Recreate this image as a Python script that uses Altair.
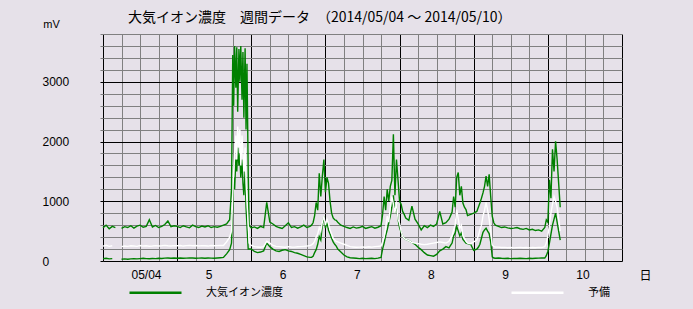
import altair as alt
import pandas as pd

TITLE = "大気イオン濃度　週間データ　（2014/05/04 ～ 2014/05/10）"
SERIES_MAIN = "大気イオン濃度"
SERIES_SPARE = "予備"
DAY_LABELS = ["05/04", "5", "6", "7", "8", "9", "10"]
X_TITLE = "日"
Y_TITLE = "mV"

# hourly readings (hour 0 = 2014/05/04 00:00)
U_d4 = [555, 600, 540, 580, 560, None, 545, 575, 560, 590, 550, 585, 600, 565, 580, 690, 570, 595, 560, 580, 610, 670, 575, 590]
U_d5 = [580, 560, 590, 570, 555, 600, 575, 560, 585, 570, 590, 560, 575, 565, 580, 600, 620, 690, 3400, 3550, 3500, 3600, 3300, 1500]
U_d6 = [555, 570, 545, 580, 560, 980, 650, 620, 580, 560, 545, 590, 640, 560, 575, 550, 570, 600, 560, 580, 640, 980, 1470, 1700]
U_d7 = [1250, 1300, 800, 690, 650, 600, 580, 560, 545, 570, 550, 560, 580, 545, 560, 575, 550, 565, 590, 1080, 1200, 1300, 2120, 1700]
U_d8 = [1000, 830, 720, 680, 920, 700, 620, 520, 590, 560, 600, 580, 620, 830, 620, 640, 700, 820, 900, 1480, 1250, 900, 760, 780]
U_d9 = [800, 830, 970, 1140, 1420, 1450, 750, 640, 580, 560, 570, 555, 545, 550, 560, 540, 530, 545, 520, 530, 510, 520, 500, 560]

W_d4 = [250, 262, 245, 255, None, None, 240, 250, 245, 255, 250, 245, 260, 250, 255, 248, 252, 258, 250, 255, 262, 255, 250, 258]
W_d5 = [255, 260, 250, 258, 262, 255, 260, 252, 258, 255, 250, 260, 255, 258, 262, 260, 320, 400, 1500, 2000, 2200, 2100, 1800, 900]
W_d6 = [260, 240, 235, 230, 240, 330, 300, 260, 245, 240, 235, 230, 240, 235, 232, 238, 240, 245, 250, 260, 290, 400, 560, 750]
W_d7 = [600, 620, 450, 350, 320, 300, 280, 260, 240, 235, 230, 232, 235, 230, 238, 232, 240, 245, 250, 400, 750, 900, 950, 1000]
W_d8 = [630, 410, 360, 340, 310, 300, 290, 280, 275, 280, 290, 300, 310, 320, 310, 300, 330, 420, 600, 860, 600, 380, 300, 290]
W_d9 = [320, 350, 520, 750, 980, 700, 380, 250, 232, 225, 228, 222, 226, 220, 224, 228, 222, 225, 220, 226, 222, 228, 225, 240]

L_d4 = [40, 45, 35, 40, None, None, 30, 35, 30, 35, 40, 35, 40, 45, 40, 38, 42, 40, 45, 42, 48, 50, 45, 50]
L_d5 = [45, 50, 45, 48, 52, 50, 45, 48, 50, 45, 50, 48, 45, 50, 55, 60, 120, 190, 1200, 1600, 1800, 1700, 1400, 500]
L_d6 = [200, 160, 140, 150, 170, 300, 240, 200, 170, 160, 180, 190, 170, 160, 140, 130, 110, 90, 70, 60, 80, 190, 410, 750]
L_d7 = [550, 520, 380, 280, 200, 150, 100, 70, 55, 50, 45, 40, 45, 40, 42, 45, 40, 48, 60, 300, 520, 750, 1100, 950]
L_d8 = [560, 410, 360, 340, 310, 280, 230, 190, 140, 100, 90, 80, 110, 170, 200, 240, 220, 300, 470, 580, 470, 330, 290, 280]
L_d9 = [180, 200, 280, 480, 550, 460, 150, 60, 50, 45, 42, 45, 40, 44, 42, 45, 43, 40, 45, 42, 45, 48, 50, 55]

# finer readings around the peaks
S1_h = [41.6, 42.0, 42.3, 42.6, 43.0, 43.3, 43.6, 44.0, 44.3, 44.6, 45.0, 45.3, 45.6, 46.0, 46.3, 46.6, 47.0, 47.3]
S1_U = [1200, 3450, 2600, 3600, 2900, 3580, 2500, 3550, 3000, 3600, 2700, 3500, 2400, 3560, 2200, 3300, 1500, 600]
S1_W = [500, 1100, 1500, 1800, 2100, 1700, 2250, 1900, 2200, 1600, 2100, 1800, 1500, 1900, 1300, 1000, 600, 300]
S1_L = [300, 900, 1400, 1200, 1700, 1500, 1900, 1600, 1800, 1400, 1700, 1300, 1100, 1500, 900, 600, 200, 200]

S2_h = [67.5, 68, 68.5, 69, 69.5, 70, 70.5, 71, 71.5, 72, 72.5, 73, 73.5, 74, 74.5, 75, 75.5]
S2_U = [600, 640, 760, 980, 850, 1470, 1080, 1420, 1700, 1150, 1400, 1300, 1000, 800, 720, 690, 680]
S2_W = [270, 290, 330, 400, 450, 560, 500, 650, 750, 600, 700, 620, 520, 450, 380, 350, 330]
S2_L = [60, 80, 140, 190, 280, 410, 350, 600, 750, 550, 650, 520, 450, 380, 320, 280, 250]

S3_h = [90, 90.5, 91, 91.5, 92, 92.5, 93, 93.5, 94, 94.5, 95, 95.5, 96, 96.5, 97, 97.5, 98]
S3_U = [590, 780, 1080, 850, 1200, 1000, 1250, 1350, 2120, 1100, 1700, 1350, 1000, 950, 830, 780, 720]
S3_W = [250, 320, 400, 550, 750, 650, 900, 1080, 950, 800, 1000, 700, 630, 500, 410, 380, 360]
S3_L = [60, 200, 300, 420, 520, 640, 750, 900, 1100, 800, 950, 700, 560, 480, 410, 380, 360]

S4_h = [112, 112.5, 113, 113.5, 114, 114.5, 115, 115.5, 116, 116.5, 117, 117.5, 118]
S4_U = [700, 760, 820, 1080, 900, 1400, 1480, 1100, 1250, 970, 900, 860, 760]
S4_W = [330, 380, 420, 520, 600, 860, 700, 550, 600, 420, 380, 330, 300]
S4_L = [220, 260, 300, 420, 470, 580, 500, 420, 470, 360, 330, 300, 290]

S5_h = [121, 121.5, 122, 122.5, 123, 123.5, 124, 124.5, 125, 125.5, 126, 126.5, 127]
S5_U = [830, 900, 970, 1050, 1140, 1250, 1420, 1250, 1450, 1080, 750, 640, 600]
S5_W = [350, 420, 520, 600, 750, 850, 980, 850, 700, 500, 270, 240, 235]
S5_L = [200, 230, 280, 380, 480, 520, 550, 500, 460, 320, 70, 50, 45]

S6_h = [143, 143.5, 144, 144.5, 145, 145.5, 146, 146.5, 147, 147.5, 148]
S6_U = [560, 690, 650, 1360, 1050, 1870, 1500, 2005, 1700, 1300, 900]
S6_W = [240, 300, 420, 600, 800, 950, 1080, 1000, 900, 700, 500]
S6_L = [50, 90, 160, 300, 450, 600, 700, 800, 650, 500, 350]


def build_frame():
    hourly = {
        "up": (SERIES_MAIN, U_d4 + U_d5 + U_d6 + U_d7 + U_d8 + U_d9),
        "low": (SERIES_MAIN, L_d4 + L_d5 + L_d6 + L_d7 + L_d8 + L_d9),
        "spare": (SERIES_SPARE, W_d4 + W_d5 + W_d6 + W_d7 + W_d8 + W_d9),
    }
    peaks = [
        (S1_h, {"up": S1_U, "spare": S1_W, "low": S1_L}),
        (S2_h, {"up": S2_U, "spare": S2_W, "low": S2_L}),
        (S3_h, {"up": S3_U, "spare": S3_W, "low": S3_L}),
        (S4_h, {"up": S4_U, "spare": S4_W, "low": S4_L}),
        (S5_h, {"up": S5_U, "spare": S5_W, "low": S5_L}),
        (S6_h, {"up": S6_U, "spare": S6_W, "low": S6_L}),
    ]
    rows = []
    for trace, (series, vals) in hourly.items():
        pts = {float(h): v for h, v in enumerate(vals)}
        for hrs, vv in peaks:
            lo, hi = hrs[0], hrs[-1]
            pts = {h: v for h, v in pts.items() if not (lo <= h <= hi)}
            pts.update({float(h): v for h, v in zip(hrs, vv[trace])})
        seg = 0
        for h in sorted(pts):
            v = pts[h]
            if v is None:
                seg += 1
                continue
            rows.append({"hour": h, "mV": v, "trace": f"{trace}{seg}", "series": series})
    return pd.DataFrame(rows)


df = build_frame()

x_grid = {"condition": {"test": "datum.value % 24 === 0", "value": "#000000"}, "value": "#808080"}
y_grid = {"condition": {"test": "datum.value % 1000 === 0", "value": "#000000"}, "value": "#808080"}

x_label_expr = (
    "datum.value % 24 === 0 && datum.value < 168 ? "
    + "[" + ",".join(f"'{s}'" for s in DAY_LABELS) + "][datum.value / 24] : ''"
)

x_enc = alt.X(
    "hour:Q",
    scale=alt.Scale(domain=[0, 168], nice=False, zero=False),
    axis=alt.Axis(
        values=list(range(0, 169, 6)),
        grid=True, gridColor=x_grid, gridWidth=1, gridOpacity=1,
        ticks=False, domain=False,
        labelExpr=x_label_expr, labelAlign="left", labelOffset=28,
        labelBaseline="alphabetic", labelPadding=17.5,
        labelFont="Liberation Sans", labelFontSize=12, labelColor="#000000",
        labelFlush=False, labelOverlap=False,
        title=X_TITLE, titleX=542, titleY=14, titleAlign="center", titleBaseline="middle",
        titleFont="Noto Sans CJK JP", titleFontSize=12, titleFontWeight="normal",
        titleColor="#000000", titleAngle=0,
    ),
)

y_enc = alt.Y(
    "mV:Q",
    scale=alt.Scale(domain=[0, 3800], nice=False, zero=True),
    axis=alt.Axis(
        values=list(range(0, 3801, 200)),
        grid=True, gridColor=y_grid, gridWidth=1, gridOpacity=1,
        ticks=True, tickSize=3, tickColor=y_grid, tickWidth=1,
        domain=False, format="d",
        labelExpr="datum.value % 1000 === 0 ? datum.label : ''",
        labelAlign="left", labelBaseline="middle", labelPadding=58,
        labelFont="Liberation Sans", labelFontSize=12, labelColor="#000000",
        labelFlush=False, labelOverlap=False,
        title=Y_TITLE, titleX=-52, titleY=-10, titleAlign="center", titleBaseline="middle",
        titleFont="Liberation Sans", titleFontSize=11, titleFontWeight="normal",
        titleColor="#000000", titleAngle=0,
    ),
)

color_enc = alt.Color(
    "series:N",
    scale=alt.Scale(domain=[SERIES_MAIN, SERIES_SPARE], range=["#008000", "#ffffff"]),
    legend=alt.Legend(
        title=None, orient="none", legendX=25, legendY=231, direction="horizontal",
        columns=2, symbolType="stroke", symbolSize=2704, symbolStrokeWidth=2.5,
        labelOffset=23, columnPadding=223, padding=0,
        labelFont="Noto Sans CJK JP", labelFontSize=11, labelColor="#000000",
    ),
)

base = alt.Chart(df).encode(
    x=x_enc, y=y_enc, color=color_enc, detail="trace:N", order="hour:Q"
)

green = base.transform_filter(alt.datum.series == SERIES_MAIN).mark_line(strokeWidth=1.4)
white = base.transform_filter(alt.datum.series == SERIES_SPARE).mark_line(strokeWidth=1.4)

chart = (
    alt.layer(green, white)
    .properties(
        width=519, height=227,
        autosize=alt.AutoSizeParams(type="none"),
        padding={"left": 103, "top": 34, "right": 71, "bottom": 48},
        background="#E6E1E9",
        title=alt.TitleParams(
            TITLE, anchor="start", frame="group", dx=25, dy=15, offset=8,
            font="Noto Sans CJK JP", fontSize=14, fontWeight="normal", color="#000000",
        ),
    )
    .configure_view(strokeWidth=0)
)

chart.save("out.html", embed_options={"renderer": "svg", "actions": False})
